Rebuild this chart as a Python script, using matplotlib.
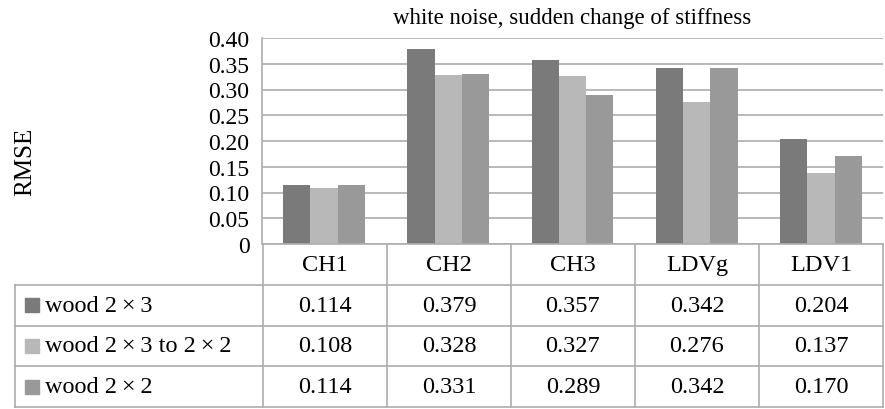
import matplotlib.pyplot as plt
import numpy as np

plt.rcParams['font.family'] = ['Liberation Serif', 'DejaVu Serif']

# data
channels = ['CH1', 'CH2', 'CH3', 'LDVg', 'LDV1']
series = ['wood 2\u2009\u00d7\u20093', 'wood 2\u2009\u00d7\u20093 to 2\u2009\u00d7\u20092', 'wood 2\u2009\u00d7\u20092']
wood_2x3 = [0.114, 0.379, 0.357, 0.342, 0.204]
wood_2x3_to_2x2 = [0.108, 0.328, 0.327, 0.276, 0.137]
wood_2x2 = [0.114, 0.331, 0.289, 0.342, 0.170]
yticks = [0, 0.05, 0.10, 0.15, 0.20, 0.25, 0.30, 0.35, 0.40]
ytick_labels = ['0', '0.05', '0.10', '0.15', '0.20', '0.25', '0.30', '0.35', '0.40']

values = [wood_2x3, wood_2x3_to_2x2, wood_2x2]
colors = ['#7a7a7a', '#b8b8b8', '#999999']
grid_c = '#adadad'
fs = 17.5

W, H = 885, 410
fig = plt.figure(figsize=(W / 100, H / 100), dpi=100)

# bar area (pixel positions of the reference)
left, right, top, bottom = 262, 883, 39, 245
ax = fig.add_axes([left / W, 1 - bottom / H, (right - left) / W, (bottom - top) / H])

x = np.arange(len(channels))
bw = 0.22
for i, (vals, c) in enumerate(zip(values, colors)):
    ax.bar(x + (i - 1) * bw, vals, bw, color=c, zorder=3)

ax.set_xlim(-0.5, len(channels) - 0.5)
ax.set_ylim(0, 0.40)
ax.set_yticks(yticks)
ax.set_yticklabels(ytick_labels, fontsize=17)
ax.set_xticks([])
ax.tick_params(axis='y', length=0, pad=9)
ax.yaxis.grid(True, color=grid_c, linewidth=1.2, zorder=0)
for s in ['top', 'right', 'bottom']:
    ax.spines[s].set_visible(False)
ax.spines['left'].set_color(grid_c)
ax.spines['left'].set_linewidth(1.2)
ax.set_title('white noise, sudden change of stiffness', fontsize=16.5, pad=11)
fig.text(25 / W, 1 - 162 / H, 'RMSE', rotation=90, ha='center', va='center', fontsize=18)

# data table below
tl, tr, tt, tb = 15, 883, 245, 408
tab = fig.add_axes([tl / W, 1 - tb / H, (tr - tl) / W, (tb - tt) / H])
tab.set_xlim(-2, len(channels))
tab.set_ylim(0, len(series) + 1)
tab.axis('off')

n = len(series)
lw = 1.2
# horizontal lines
tab.plot([-0.0, len(channels)], [n + 1, n + 1], color=grid_c, lw=lw, clip_on=False)
for r in range(n + 1):
    tab.plot([-2, len(channels)], [r, r], color=grid_c, lw=lw, clip_on=False)
# vertical lines
tab.plot([-2, -2], [0, n], color=grid_c, lw=lw, clip_on=False)
for c in range(len(channels) + 1):
    tab.plot([c, c], [0, n + 1], color=grid_c, lw=lw, clip_on=False)

for j, ch in enumerate(channels):
    tab.text(j + 0.5, n + 0.5, ch, ha='center', va='center', fontsize=fs)
for i, (name, vals, col) in enumerate(zip(series, values, colors)):
    yc = n - i - 0.5
    tab.add_patch(plt.Rectangle((-1.92, yc - 0.17), 0.11, 0.34, color=col, clip_on=False))
    tab.text(-1.76, yc, name, ha='left', va='center', fontsize=fs)
    for j, v in enumerate(vals):
        tab.text(j + 0.5, yc, f'{v:.3f}', ha='center', va='center', fontsize=fs)

fig.savefig('out.png', dpi=100)
